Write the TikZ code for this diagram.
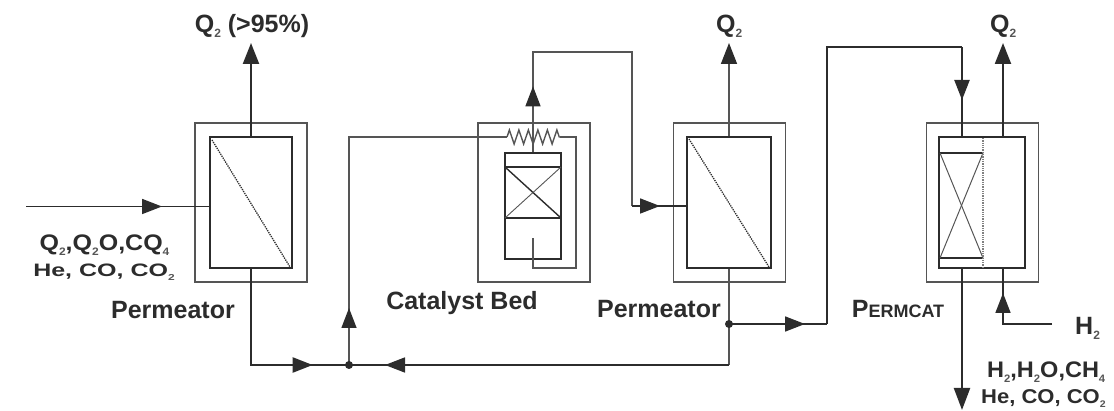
\documentclass[tikz,border=0pt]{standalone}
\usepackage{fontspec}
\usepackage{graphicx}
\setmainfont{Liberation Sans}
\usetikzlibrary{arrows.meta,decorations.markings,decorations.pathmorphing}
\definecolor{ink}{HTML}{2C2C2C}
\definecolor{soft}{HTML}{555555}
\newcommand{\lowsub}[1]{\raisebox{-5pt}{\fontsize{12}{12}\selectfont\color{soft}#1}}
\tikzset{
  outerbox/.style={draw=soft,line width=1.3pt,inner sep=0pt,minimum width=112pt,minimum height=159pt},
  innerbox/.style={draw=ink,line width=1.4pt,inner sep=0pt},
  thinline/.style={draw=soft,line width=1.4pt},
  thickline/.style={draw=ink,line width=2.2pt},
  flowline/.style={draw=ink,line width=1.7pt},
  upend/.style={-{Triangle[length=21pt,width=16pt,color=ink]}},
  midtip/.style={postaction={decorate},decoration={markings,mark=at position #1 with {\arrow{Triangle[length=20pt,width=15pt,color=ink]}}}},
  bedline/.style={draw=ink,line width=1.4pt},
  dia/.style={draw=ink,line width=1.3pt,densely dotted},
  junction/.style={circle,fill=ink,inner sep=0pt,minimum size=8pt},
  lab/.style={font=\bfseries\fontsize{25}{25}\selectfont,text=ink,inner sep=0pt,anchor=base},
  leftlab/.style={lab,anchor=base west},
}
\begin{document}
\begin{tikzpicture}[x=1pt,y=-1pt]
\useasboundingbox (0,0) rectangle (1114,411);
% vessels
\node[outerbox] (o1) at (251,202.5) {};
\node[outerbox] (o2) at (534,202.5) {};
\node[outerbox] (o3) at (729.5,202.5) {};
\node[outerbox] (o4) at (982.5,202.5) {};
\node[innerbox,minimum width=82pt,minimum height=131pt] (p1) at (251,202.5) {};
\node[innerbox,minimum width=84pt,minimum height=131pt] (p2) at (729,202.5) {};
\node[innerbox,minimum width=86pt,minimum height=131pt] (p3) at (982,202.5) {};
\node[innerbox,minimum width=56pt,minimum height=106pt] (cat) at (533,206) {};
% named points
\coordinate (in1) at (26,206.5);
\coordinate (q1) at (251,43);
\coordinate (j1) at (349,365);
\coordinate (cor1) at (251,365);
\coordinate (cor2) at (729,365);
\coordinate (up1) at (349,137);
\coordinate (rl) at (507,137);
\coordinate (rr) at (560,137);
\coordinate (c1) at (576,137);
\coordinate (c2) at (576,268);
\coordinate (c3) at (533,268);
\coordinate (c4) at (533,238);
\coordinate (t1) at (533,52);
\coordinate (t2) at (632,52);
\coordinate (t3) at (632,206);
\coordinate (q2) at (729,43);
\coordinate (j2) at (729,324);
\coordinate (s1) at (827,324);
\coordinate (s2) at (827,47);
\coordinate (s3) at (962,47);
\coordinate (s4) at (962,137);
\coordinate (q3) at (1003,43);
\coordinate (s5) at (1003,137);
\coordinate (b1) at (962,268);
\coordinate (b2) at (962,410);
\coordinate (h1) at (1052,324);
\coordinate (h2) at (1003,324);
\coordinate (h3) at (1003,268);
% permeator 1
\draw[dia] (212,140) -- (290,267);
\draw[flowline,midtip=136pt] (in1) -- (p1.west |- in1);
\draw[thickline,upend] (p1.north) -- (q1);
\draw[thickline,midtip=158pt] (p1.south) -- (cor1) -- (j1);
\draw[thinline,midtip=57pt] (j1) -- (up1) -- (rl);
% catalyst bed
\draw[thinline,decorate,decoration={zigzag,segment length=9.5pt,amplitude=7pt}] (rl) -- (rr);
\draw[thinline] (rr) -- (c1) -- (c2) -- (c3) -- (c4);
\draw[bedline] (505,167) -- (561,167) (505,218) -- (561,218);
\draw[bedline] (505,167) -- (561,218);
\draw[thinline,line width=.9pt] (561,167) -- (505,218);
\draw[thinline,midtip=66pt] (cat.north) -- (t1) -- (t2) -- (t3);
\draw[flowline,midtip=28pt] (t3) -- (p2.west |- t3);
% permeator 2
\draw[dia] (689,139) -- (769,267);
\draw[thinline,line width=1.6pt,upend] (p2.north) -- (q2);
\draw[thinline] (p2.south) -- (j2) -- (cor2);
\draw[flowline,midtip=344pt] (cor2) -- (j1);
\draw[flowline,midtip=76pt] (j2) -- (s1);
\draw[flowline] (s1) -- (s2) -- (s3);
\node[junction] (jn1) at (j1) {};
\node[junction] (jn2) at (j2) {};
% permcat
\draw[thickline,midtip=53pt] (s3) -- (s4);
\draw[thickline,upend] (s5) -- (q3);
\draw[thickline,-{Triangle[length=22pt,width=16pt,color=ink]}] (b1) -- (b2);
\draw[flowline,midtip=80pt] (h1) -- (h2) -- (h3);
\draw[bedline] (940,153) -- (983,153) (940,258) -- (983,258);
\draw[thinline,line width=1pt] (940,153) -- (983,258);
\draw[thinline,line width=1pt] (983,153) -- (940,258);
\draw[draw=gray,line width=1.3pt,densely dotted] (983,138) -- (983,267);
% labels
\node[lab] (tq1) at (252,33) {Q\lowsub{2} (>95\%)};
\node[leftlab] (tq2) at (716,33) {Q\lowsub{2}};
\node[leftlab] (tq3) at (990,33) {Q\lowsub{2}};
\node[lab] (tf1) at (104.5,251) {\scalebox{1}[.9]{Q\lowsub{2},Q\lowsub{2}O,CQ\lowsub{4}}};
\node[lab] (tf2) at (104,277) {\scalebox{1}[.72]{He, CO, CO\lowsub{2}}};
\node[lab] (tp1) at (173,319) {Permeator};
\node[lab] (tc) at (462,310) {Catalyst Bed};
\node[lab] (tp2) at (659,318) {Permeator};
\node[lab] (tpc) at (898,318) {P{\fontsize{18}{18}\selectfont ERMCAT}};
\node[leftlab] (th) at (1075,335) {H\lowsub{2}};
\node[leftlab] (tb1) at (987,378) {\scalebox{.94}[.9]{H\lowsub{2},H\lowsub{2}O,CH\lowsub{4}}};
\node[leftlab] (tb2) at (981,404) {\scalebox{.88}[.8]{He, CO, CO\lowsub{2}}};
\end{tikzpicture}
\end{document}
